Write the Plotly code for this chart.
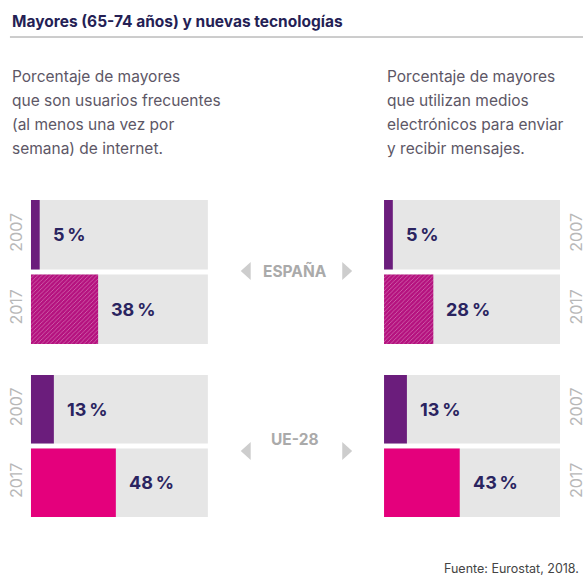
import plotly.graph_objects as go

# --- data ---------------------------------------------------------------
years = ["2007", "2017"]
internet_espana = [5, 38]
internet_ue28 = [13, 48]
mensajes_espana = [5, 28]
mensajes_ue28 = [13, 43]
full_scale = [100, 100]

title_text = "Mayores (65-74 años) y nuevas tecnologías"
left_lines = ["Porcentaje de mayores", "que son usuarios frecuentes",
              "(al menos una vez por", "semana) de internet."]
right_lines = ["Porcentaje de mayores", "que utilizan medios",
               "electrónicos para enviar", "y recibir mensajes."]
groups = ["ESPAÑA", "UE-28"]
source_text = "Fuente: Eurostat, 2018."

# --- styling ------------------------------------------------------------
W, H = 586, 579
FONT = "Inter"
NAVY = "#2a2460"
GREY_BG = "#e6e6e6"
C2007 = "#6b1d7c"
C2017_ES = "#b5127f"
C2017_UE = "#e4007c"
YEAR_GREY = "#b8b8b8"

# bottom-to-top order of the year categories (2007 drawn on top)
year_order = ["2017", "2007"]


def px_x(p):
    return p / W


def px_y(p):
    return 1 - p / H


fig = go.Figure()

# panel definitions: (values, axis suffix, colour for 2017, hatched?)
panels = [
    (internet_espana, "", C2017_ES, True),
    (mensajes_espana, "2", C2017_ES, True),
    (internet_ue28, "3", C2017_UE, False),
    (mensajes_ue28, "4", C2017_UE, False),
]

for vals, sfx, c17, hatched in panels:
    xa, ya = "x" + sfx, "y" + sfx
    # grey full-length track
    fig.add_trace(go.Bar(x=full_scale, y=years, orientation="h",
                         marker=dict(color=GREY_BG, line=dict(width=0)),
                         xaxis=xa, yaxis=ya, showlegend=False, hoverinfo="skip"))
    marker = dict(color=[C2007, c17], line=dict(width=0))
    if hatched:
        marker["pattern"] = dict(shape=["", "/"], fgcolor="#a40e74", size=3, solidity=0.2)
    fig.add_trace(go.Bar(x=vals, y=years, orientation="h", marker=marker,
                         xaxis=xa, yaxis=ya, showlegend=False))
    for yr, v in zip(years, vals):
        fig.add_annotation(x=v, y=year_order.index(yr), xref=xa, yref=ya,
                           text=f"<b>{v}\u2009%</b>",
                           showarrow=False, xanchor="left", yanchor="middle",
                           xshift=11, font=dict(family=FONT, size=18, color=NAVY))

# axis domains (pixel positions converted to paper fractions)
left_dom = [px_x(31), px_x(209)]
right_dom = [px_x(386), px_x(563)]
es_dom = [px_y(346.5), px_y(197.5)]
ue_dom = [px_y(519.5), px_y(372.5)]

xcommon = dict(range=[0, 100], showgrid=False, zeroline=False, showticklabels=False,
               showline=False, fixedrange=True)
ycommon = dict(type="category", categoryorder="array", categoryarray=year_order,
               range=[-0.5, 1.5],
               showgrid=False, zeroline=False, showline=False, ticks="",
               tickangle=-90, ticklabelstandoff=5,
               tickfont=dict(family=FONT, size=16, color=YEAR_GREY))

fig.update_layout(
    xaxis=dict(domain=left_dom, anchor="y", **xcommon),
    xaxis2=dict(domain=right_dom, anchor="y2", **xcommon),
    xaxis3=dict(domain=left_dom, anchor="y3", **xcommon),
    xaxis4=dict(domain=right_dom, anchor="y4", **xcommon),
    yaxis=dict(domain=es_dom, anchor="x", side="left", **ycommon),
    yaxis2=dict(domain=es_dom, anchor="x2", side="right", **ycommon),
    yaxis3=dict(domain=ue_dom, anchor="x3", side="left", **ycommon),
    yaxis4=dict(domain=ue_dom, anchor="x4", side="right", **ycommon),
)

# title and rule
fig.add_annotation(x=px_x(10), y=px_y(21), xref="paper", yref="paper",
                   text=f"<b>{title_text}</b>", showarrow=False,
                   xanchor="left", yanchor="middle",
                   font=dict(family=FONT, size=15.5, color="#251f55", weight=800))
fig.add_shape(type="line", xref="paper", yref="paper",
              x0=px_x(10), x1=1, y0=px_y(37), y1=px_y(37),
              line=dict(color="#9a9a9a", width=1))

# panel descriptions
for i, (l, r) in enumerate(zip(left_lines, right_lines)):
    yy = px_y(77 + 23.7 * i)
    for xx, txt in ((px_x(10), l), (px_x(387), r)):
        fig.add_annotation(x=xx, y=yy, xref="paper", yref="paper", text=txt,
                           showarrow=False, xanchor="left", yanchor="middle",
                           font=dict(family=FONT, size=15.5, color="#5d5766"))


def tri_path(tip_x, base_x, cy, half_h=9):
    """Closed SVG path of a triangle pointing from base_x toward tip_x."""
    return (f"M {px_x(base_x)} {px_y(cy - half_h)} "
            f"L {px_x(base_x)} {px_y(cy + half_h)} "
            f"L {px_x(tip_x)} {px_y(cy)} Z")


# group labels between the panels, flanked by arrowheads
for name, ypix in zip(groups, (271, 451)):
    fig.add_annotation(x=px_x(297), y=px_y(ypix), xref="paper", yref="paper",
                       text=f"<b>{name}</b>", showarrow=False,
                       font=dict(family=FONT, size=15.5, color="#aaaaaa"))
    for tip, base in ((242, 252), (354, 344)):
        fig.add_shape(type="path", xref="paper", yref="paper",
                      path=tri_path(tip, base, ypix),
                      fillcolor="#cdcdcd", line=dict(width=0))

# source note
fig.add_annotation(x=px_x(584), y=px_y(568), xref="paper", yref="paper",
                   text=source_text, showarrow=False, xanchor="right", yanchor="middle",
                   font=dict(family=FONT, size=12.5, color="#444444"))

fig.update_layout(
    width=W, height=H,
    margin=dict(l=0, r=0, t=0, b=0),
    paper_bgcolor="white", plot_bgcolor="white",
    barmode="overlay", bargap=0.07,
    showlegend=False,
)

fig.write_html("out.html")
